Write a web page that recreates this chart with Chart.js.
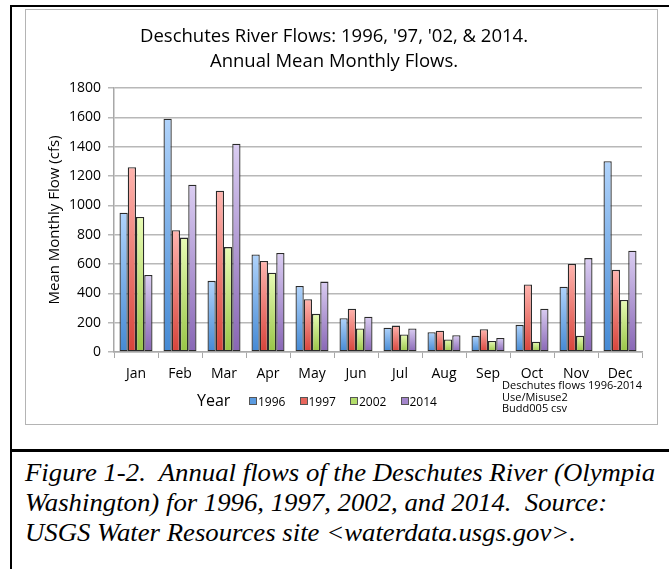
<!DOCTYPE html>
<html>
<head>
<meta charset="utf-8">
<script src="https://cdn.jsdelivr.net/npm/chart.js@4/dist/chart.umd.min.js"></script>
<style>
  body { margin: 0; width: 669px; height: 569px; background: #fff; position: relative; overflow: hidden; font-family: 'Open Sans', sans-serif; }
  #frame { position: absolute; left: 10px; top: 5px; width: 700px; height: 600px; border-left: 2.5px solid #000; border-top: 2.5px solid #000; }
  #rule { position: absolute; left: 10px; top: 449px; width: 700px; height: 2.5px; background: #000; }
  #box { position: absolute; left: 25px; top: 9px; width: 631px; height: 414px; border: 1.5px solid #b4b4b4; }
  #wrap { position: absolute; left: 26px; top: 10px; width: 630px; height: 414px; }
  #year { position: absolute; left: 197px; top: 389px; font-size: 16px; }
  #legend { position: absolute; left: 249px; top: 393px; font-size: 12px; }
  .item { position: absolute; top: 0; white-space: nowrap; }
  .sw { position: absolute; top: 4px; width: 6px; height: 6px; border: 1px solid #555; }
  .lab { position: absolute; left: 9px; top: 0; }
  #note { position: absolute; left: 502px; top: 379px; font-size: 11px; line-height: 11.7px; }
  #caption { position: absolute; left: 25px; top: 458px; font-family: 'Liberation Serif', 'Times New Roman', serif; font-style: italic; font-size: 25px; line-height: 30px; white-space: pre; transform-origin: 0 0; transform: scaleX(1.07); }
</style>
</head>
<body>
<div id="frame"></div>
<div id="rule"></div>
<div id="box"></div>
<div id="wrap"><canvas id="chart" width="630" height="414"></canvas></div>
<div id="year">Year</div>
<div id="legend"></div>
<div id="note">Deschutes flows 1996-2014<br>Use/Misuse2<br>Budd005 csv</div>
<div id="caption">Figure 1-2.  Annual flows of the Deschutes River (Olympia
Washington) for 1996, 1997, 2002, and 2014.  Source:
USGS Water Resources site &lt;waterdata.usgs.gov&gt;.</div>
<script>
// Datos (cfs)
const meses = ['Jan', 'Feb', 'Mar', 'Apr', 'May', 'Jun', 'Jul', 'Aug', 'Sep', 'Oct', 'Nov', 'Dec'];
const anios = ['1996', '1997', '2002', '2014'];
const flujo1996 = [950, 1590, 485, 665, 450, 230, 165, 135, 110, 185, 445, 1300];
const flujo1997 = [1260, 830, 1100, 620, 360, 295, 180, 145, 155, 460, 600, 560];
const flujo2002 = [920, 780, 715, 540, 260, 160, 120, 85, 75, 70, 110, 355];
const flujo2014 = [525, 1140, 1420, 675, 480, 240, 160, 115, 95, 295, 640, 690];
const yTicks = [0, 200, 400, 600, 800, 1000, 1200, 1400, 1600, 1800];

// Colores: [arriba claro, abajo oscuro, muestra de leyenda]
const colores = [
    ['#b0d3fb', '#4489d4', '#5b9be0'],
    ['#ffb4ae', '#d7433a', '#e8665c'],
    ['#e8fcb4', '#98c545', '#b3dd6a'],
    ['#dacdf2', '#8866b5', '#a486cc']
];

Chart.defaults.font.family = "'Open Sans', sans-serif";
Chart.defaults.color = '#000';

function degradado(idx) {
    return function(ctx) {
        const chart = ctx.chart;
        if (!chart.chartArea || ctx.type !== 'data') return colores[idx][2];
        const y = chart.scales.y;
        const top = y.getPixelForValue(ctx.raw);
        const base = y.getPixelForValue(0);
        if (!isFinite(top) || Math.abs(base - top) < 1) return colores[idx][2];
        const g = chart.ctx.createLinearGradient(0, top, 0, base);
        g.addColorStop(0, colores[idx][0]);
        g.addColorStop(1, colores[idx][1]);
        return g;
    };
}

const series = [flujo1996, flujo1997, flujo2002, flujo2014];

new Chart(document.getElementById('chart'), {
    type: 'bar',
    data: {
        labels: meses,
        datasets: series.map((s, i) => ({
            label: anios[i],
            data: s,
            backgroundColor: degradado(i),
            borderColor: '#2a2a2a',
            borderWidth: 1.3,
            borderSkipped: false,
            categoryPercentage: 0.75,
            barPercentage: 1.0
        }))
    },
    options: {
        responsive: false,
        animation: false,
        layout: { padding: { left: 0, right: 14, top: 0, bottom: 0 } },
        plugins: {
            legend: { display: false },
            tooltip: { enabled: false },
            title: {
                display: true,
                text: ["Deschutes River Flows: 1996, '97, '02, & 2014.", 'Annual Mean Monthly Flows.'],
                font: { size: 18.5, weight: 'normal', lineHeight: 1.35 },
                color: '#000',
                padding: { top: 14.5, bottom: 13.5 }
            }
        },
        scales: {
            x: {
                afterFit: scale => { scale.height = 72; },
                grid: { drawOnChartArea: false, drawTicks: true, tickLength: 6, color: '#a8a8a8', offset: true },
                border: { color: '#a8a8a8', width: 1.5 },
                ticks: { font: { size: 14 }, padding: 8, color: '#000' }
            },
            y: {
                min: 0,
                max: 1800,
                afterFit: scale => { scale.width = 88; },
                afterBuildTicks: scale => { scale.ticks = yTicks.map(v => ({ value: v })); },
                grid: { color: '#b8b8b8', lineWidth: 1.5, tickLength: 6 },
                border: { color: '#a8a8a8', width: 1.5 },
                ticks: { font: { size: 14 }, padding: 7, color: '#000', callback: v => String(v) },
                title: {
                    display: true,
                    text: 'Mean Monthly Flow (cfs)',
                    font: { size: 15 },
                    color: '#000',
                    padding: { top: 20, bottom: 0 }
                }
            }
        }
    }
});

// Leyenda en HTML
const leyenda = document.getElementById('legend');
anios.forEach((a, i) => {
    const item = document.createElement('div');
    item.className = 'item';
    item.style.left = (i * 50.5) + 'px';
    item.innerHTML = '<span class="sw" style="background:' + colores[i][2] + '"></span><span class="lab">' + a + '</span>';
    leyenda.appendChild(item);
});
</script>
</body>
</html>
